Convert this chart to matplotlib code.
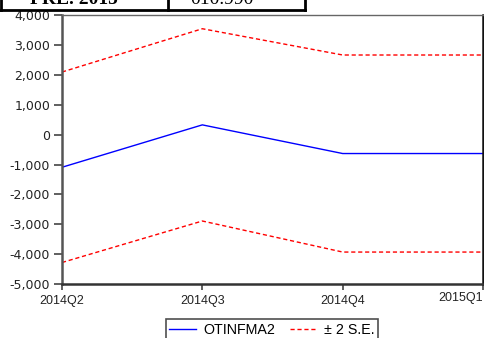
import matplotlib.pyplot as plt
from matplotlib.lines import Line2D

plt.rcParams["font.family"] = ["Liberation Sans", "DejaVu Sans"]

# forecast and +/- 2 standard error bands
quarters = ["2014Q2", "2014Q3", "2014Q4", "2015Q1"]
forecast = [-1090, 330, -630, -630]
upper_band = [2100, 3550, 2670, 2670]
lower_band = [-4280, -2890, -3930, -3930]
y_ticks = [4000, 3000, 2000, 1000, 0, -1000, -2000, -3000, -4000, -5000]

W, H = 485, 338
fig = plt.figure(figsize=(W / 100, H / 100), dpi=100)
ax = fig.add_axes([62 / W, (H - 284) / H, (483 - 62) / W, (284 - 15.3) / H])

x = list(range(len(quarters)))
ax.plot(x, forecast, color="#0000ff", linewidth=1.0)
ax.plot(x, upper_band, color="#ff0000", linewidth=1.0, linestyle=(0, (3, 2)))
ax.plot(x, lower_band, color="#ff0000", linewidth=1.0, linestyle=(0, (3, 2)))

ax.set_xlim(0, 3)
ax.set_ylim(-5000, 4000)
ax.set_yticks(y_ticks)
ax.set_yticklabels([f"{v:,}" for v in y_ticks], family="DejaVu Sans", fontsize=9)
ax.set_xticks(x)
ax.set_xticklabels(quarters, fontsize=9)
ax.tick_params(axis="both", direction="out", width=1.2, color="#444444",
               labelcolor="#222222")
ax.tick_params(axis="y", length=5.5, pad=3)
ax.tick_params(axis="x", length=4, pad=4)
labels = ax.get_xticklabels()
labels[-1].set_horizontalalignment("right")
labels[-1].set_y(0.01)

ax.spines["left"].set_color("#555555")
ax.spines["left"].set_linewidth(1.8)
ax.spines["bottom"].set_color("#333333")
ax.spines["bottom"].set_linewidth(1.8)
ax.spines["top"].set_color("#666666")
ax.spines["top"].set_linewidth(1.0)
ax.spines["right"].set_color("#111111")
ax.spines["right"].set_linewidth(1.8)

# legend below the plot
handles = [
    Line2D([], [], color="#0000ff", linewidth=1.0),
    Line2D([], [], color="#ff0000", linewidth=1.0, linestyle=(0, (3, 2))),
]
leg = fig.legend(handles, ["OTINFMA2", "\u00b1 2 S.E."], ncol=2,
                 loc="upper center", bbox_to_anchor=(272 / W, (H - 319) / H),
                 fontsize=10.3, frameon=True, fancybox=False, handlelength=1.9,
                 handletextpad=0.5, columnspacing=1.0, borderpad=0.25,
                 borderaxespad=0)
leg.get_frame().set_edgecolor("#222222")
leg.get_frame().set_linewidth(1.2)

# table cells above the chart
fig.add_artist(Line2D([0, 305 / W], [(H - 10) / H] * 2, color="black", linewidth=2))
for xv in [1, 168, 305]:
    fig.add_artist(Line2D([xv / W] * 2, [(H - 10) / H, 1], color="black", linewidth=2))
fig.text(30 / W, (H - 4) / H, "PRE. 2015", fontsize=14, fontweight="bold",
         family="Liberation Serif", va="baseline")
fig.text(190 / W, (H - 4) / H, "010.990", fontsize=14,
         family="Liberation Serif", va="baseline")

fig.savefig("out.png", dpi=100)
